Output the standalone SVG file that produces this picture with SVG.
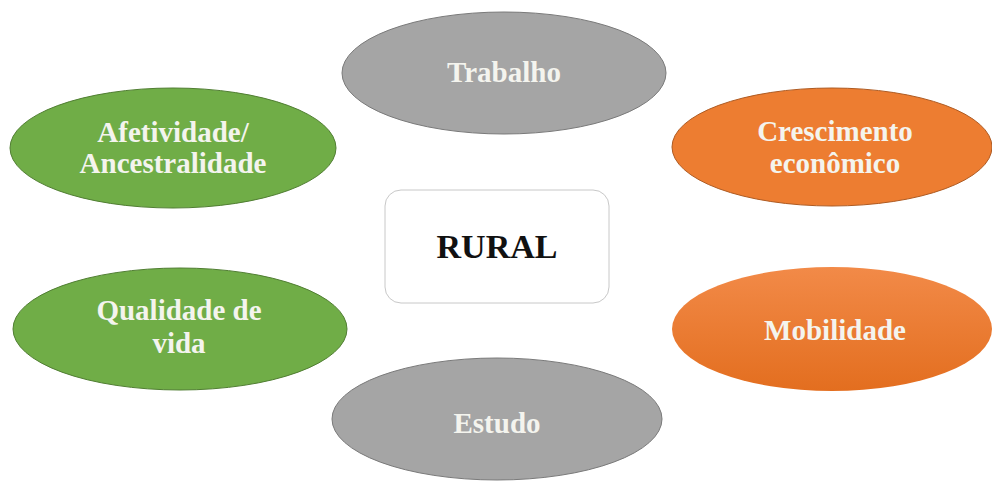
<svg xmlns="http://www.w3.org/2000/svg" width="992" height="481" viewBox="0 0 992 481">
<defs>
<linearGradient id="og" x1="0" y1="0" x2="0" y2="1"><stop offset="0" stop-color="#f28a48"/><stop offset="1" stop-color="#e36e1f"/></linearGradient>
<style>
.g{fill:#a5a5a5;stroke:#7a7a7a;stroke-width:1}
.gr{fill:#70ad47;stroke:#507e32;stroke-width:1}
.or{fill:#ed7d31;stroke:#ae5a21;stroke-width:1}
.t{font-family:"Liberation Serif","Times New Roman",serif;font-weight:bold;font-size:29px;fill:#f4f4ee;text-anchor:middle}
.c{font-family:"Liberation Serif","Times New Roman",serif;font-weight:bold;font-size:34px;fill:#111;text-anchor:middle}
</style>
</defs>
<rect width="992" height="481" fill="#ffffff"/>
<g id="connectors"></g>
<g id="rural"><rect x="385" y="190" width="224" height="113" rx="16" fill="#fff" stroke="#c8c8c8" stroke-width="1"/><text class="c" x="497" y="258">RURAL</text></g>
<g id="trabalho"><ellipse class="g" cx="504" cy="73" rx="162" ry="61"/><text class="t" x="504" y="82">Trabalho</text></g>
<g id="afetividade"><ellipse class="gr" cx="173" cy="148" rx="163" ry="60"/><text class="t" x="173" y="142">Afetividade/</text><text class="t" x="173" y="173">Ancestralidade</text></g>
<g id="crescimento"><ellipse class="or" cx="832" cy="147" rx="160" ry="59"/><text class="t" x="835" y="141">Crescimento</text><text class="t" x="835" y="173">econômico</text></g>
<g id="qualidade"><ellipse class="gr" cx="180" cy="329" rx="167" ry="61"/><text class="t" x="179" y="320">Qualidade de</text><text class="t" x="179" y="353">vida</text></g>
<g id="mobilidade"><ellipse cx="832" cy="329" rx="160" ry="62" fill="url(#og)" stroke="none"/><text class="t" x="835" y="340">Mobilidade</text></g>
<g id="estudo"><ellipse class="g" cx="497" cy="419" rx="165" ry="61"/><text class="t" x="497" y="433">Estudo</text></g>
</svg>
